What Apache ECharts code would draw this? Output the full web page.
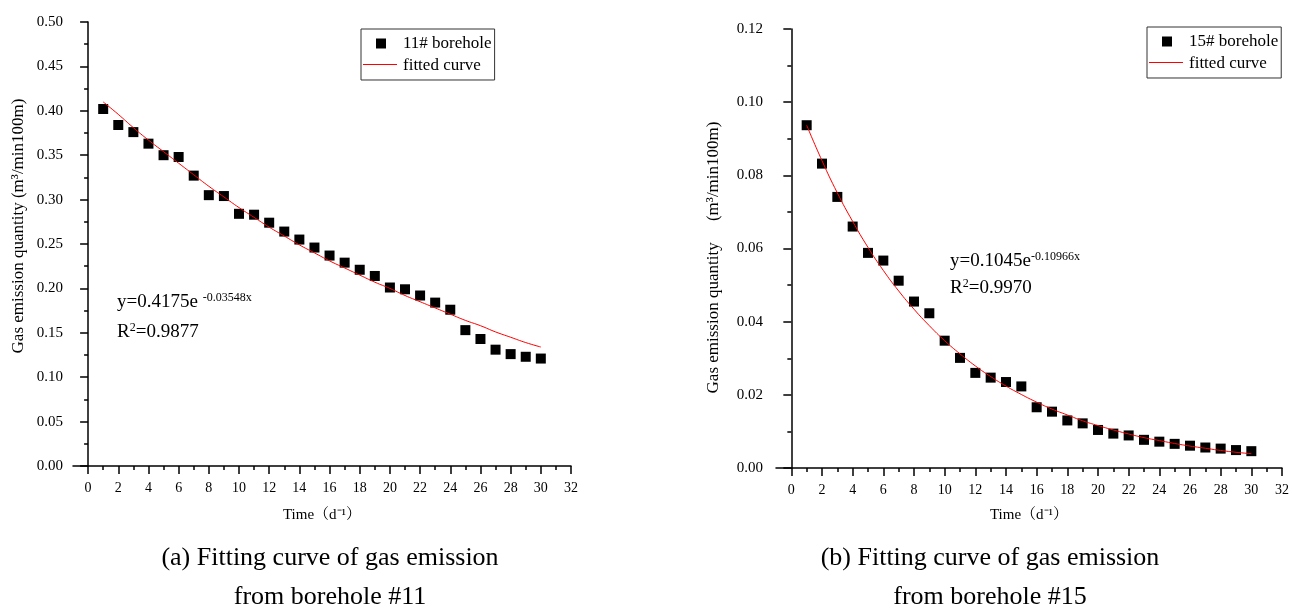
<!DOCTYPE html>
<html>
<head>
<meta charset="utf-8">
<title>Gas emission fitting curves</title>
<script src="https://cdn.jsdelivr.net/npm/echarts@6/dist/echarts.min.js"></script>
<style>
	html, body { margin: 0; padding: 0; background: #fff; }
	#chart { width: 1292px; height: 610px; }
</style>
</head>
<body>
<div id="chart"></div>
<script>
// time (days)
var days = [1,2,3,4,5,6,7,8,9,10,11,12,13,14,15,16,17,18,19,20,21,22,23,24,25,26,27,28,29,30];

// 11# borehole measured values, m3/min100m
var hole11 = [0.402,0.384,0.376,0.363,0.350,0.348,0.327,0.305,0.304,0.284,
	0.283,0.274,0.264,0.255,0.246,0.237,0.229,0.221,0.214,0.201,
	0.199,0.192,0.184,0.176,0.153,0.143,0.131,0.126,0.123,0.121];
// 11# fitted curve
var fit11 = [0.410,0.396,0.381,0.367,0.354,0.341,0.328,0.315,0.303,0.291,
	0.280,0.269,0.259,0.249,0.240,0.231,0.223,0.215,0.207,0.200,
	0.192,0.185,0.178,0.171,0.164,0.158,0.151,0.145,0.139,0.134];

// 15# borehole measured values
var hole15 = [0.0937,0.0832,0.0741,0.0660,0.0588,0.0567,0.0512,0.0455,0.0423,0.0348,
	0.0301,0.0260,0.0247,0.0235,0.0223,0.0166,0.0154,0.0130,0.0122,0.0104,
	0.0094,0.0089,0.0077,0.0072,0.0066,0.0061,0.0056,0.0053,0.0049,0.0046];
// 15# fitted curve
var fit15 = [0.0937,0.0840,0.0752,0.0674,0.0603,0.0540,0.0484,0.0434,0.0389,0.0348,
	0.0312,0.0279,0.0250,0.0224,0.0201,0.0180,0.0161,0.0145,0.0129,0.0116,
	0.0104,0.0093,0.0083,0.0075,0.0067,0.0060,0.0054,0.0048,0.0043,0.0039];

// x axis ticks
var xMajor = [0,2,4,6,8,10,12,14,16,18,20,22,24,26,28,30,32];
var xMinor = [1,3,5,7,9,11,13,15,17,19,21,23,25,27,29,31];

var font = "'Liberation Serif', 'Times New Roman', 'Noto Serif CJK SC', 'Noto Sans CJK SC', serif";
var red = '#ff0000';

function pairs(xs, ys){
	var out = [];
	for(var i = 0; i < xs.length; i++){
		out.push([xs[i], ys[i]]);
	}
	return out;
}

// main x axis (labels + long ticks)
function mainX(grid, gap){
	return {
		type: 'value', gridIndex: grid, min: -1, max: 32, position: 'bottom',
		name: 'Time（d⁻¹）', nameLocation: 'middle', nameGap: gap,
		nameTextStyle: { fontFamily: font, fontSize: 15, color: '#000' },
		axisLine: { lineStyle: { color: '#000', width: 1.5 } },
		axisTick: { customValues: xMajor, length: 8, lineStyle: { color: '#000', width: 1.5 } },
		axisLabel: { customValues: xMajor, margin: 15, fontFamily: font, fontSize: 14, color: '#000' },
		splitLine: { show: false }
	};
}
// overlay axis that only draws the short odd ticks
function minorX(grid){
	return {
		type: 'value', gridIndex: grid, min: -1, max: 32, position: 'bottom',
		axisLine: { show: false },
		axisTick: { customValues: xMinor, length: 4, lineStyle: { color: '#000', width: 1.5 } },
		axisLabel: { show: false },
		splitLine: { show: false }
	};
}
function yAxis(grid, max, step, name, gap, margin, pad){
	return {
		type: 'value', gridIndex: grid, min: 0, max: max, interval: step,
		name: name, nameLocation: 'middle', nameGap: gap,
		nameTextStyle: { fontFamily: font, fontSize: 17, color: '#000', padding: pad },
		axisLine: { show: true, lineStyle: { color: '#000', width: 1.5 } },
		axisTick: { show: true, length: 8, lineStyle: { color: '#000', width: 1.5 } },
		minorTick: { show: true, splitNumber: 2, length: 4, lineStyle: { color: '#000', width: 1.5 } },
		axisLabel: { margin: margin, fontFamily: font, fontSize: 15, color: '#000',
			formatter: function(v){ return v.toFixed(2); } },
		splitLine: { show: false }
	};
}
function legend(left, top, first){
	return {
		orient: 'vertical', left: left, top: top,
		padding: [6, 3, 6, 2], itemGap: 5,
		itemWidth: 34, itemHeight: 10,
		borderColor: '#333', borderWidth: 1,
		textStyle: { fontFamily: font, fontSize: 17, color: '#000', lineHeight: 16 },
		data: [
			{ name: first, icon: 'path://M0,0h10v10h-10z', itemStyle: { color: '#000' } },
			// icon hidden here, the red sample line is drawn in graphic below
			{ name: 'fitted curve', itemStyle: { opacity: 0 }, lineStyle: { opacity: 0 } }
		]
	};
}
// red sample line of the legend
function legendLine(x, y){
	return {
		type: 'line', z: 100,
		shape: { x1: x, y1: y, x2: x + 34, y2: y },
		style: { stroke: red, lineWidth: 1 }
	};
}
// formula text with superscripts
function formula(x, y, head, sup, tail){
	return {
		type: 'text', left: x, top: y,
		style: {
			text: '{m|' + head + '}{s|' + sup + '}' + (tail ? '{m|' + tail + '}' : ''),
			rich: {
				m: { fontFamily: font, fontSize: 19, lineHeight: 20, fill: '#000', color: '#000' },
				s: { fontFamily: font, fontSize: 12, lineHeight: 20, verticalAlign: 'top', fill: '#000', color: '#000' }
			}
		}
	};
}
function caption(x, y, text){
	return {
		type: 'text', x: x, y: y,
		style: { text: text, fontFamily: font, fontSize: 26, fill: '#000',
			align: 'center', verticalAlign: 'middle' }
	};
}

var myChart = echarts.init(document.getElementById('chart'));

var option = {
	backgroundColor: '#fff',
	animation: false,
	grid: [
		{ left: 73, top: 22, width: 498, height: 444 },
		{ left: 776, top: 29, width: 510, height: 439 }
	],
	xAxis: [mainX(0, 42), minorX(0), mainX(1, 40), minorX(1)],
	yAxis: [
		yAxis(0, 0.5, 0.05, 'Gas emission quantity (m³/min100m)', 46, 10, [0, 0, 0, 36]),
		yAxis(1, 0.12, 0.02, 'Gas emission quantity     (m³/min100m)', 54, 13, [0, 18, 0, 0])
	],
	legend: [legend(361, 29, '11# borehole'), legend(1147, 27, '15# borehole')],
	series: [
		{
			name: '11# borehole', type: 'scatter', xAxisIndex: 0, yAxisIndex: 0,
			symbol: 'rect', symbolSize: 10, itemStyle: { color: '#000', opacity: 1 },
			data: pairs(days, hole11)
		},
		{
			name: 'fitted curve', type: 'line', xAxisIndex: 0, yAxisIndex: 0,
			symbol: 'none', smooth: true, lineStyle: { color: red, width: 1 },
			itemStyle: { color: red }, z: 3,
			data: pairs(days, fit11)
		},
		{
			name: '15# borehole', type: 'scatter', xAxisIndex: 2, yAxisIndex: 1,
			symbol: 'rect', symbolSize: 10, itemStyle: { color: '#000', opacity: 1 },
			data: pairs(days, hole15)
		},
		{
			name: 'fitted curve', type: 'line', xAxisIndex: 2, yAxisIndex: 1,
			symbol: 'none', smooth: true, lineStyle: { color: red, width: 1 },
			itemStyle: { color: red }, z: 3,
			data: pairs(days, fit15)
		}
	],
	graphic: [
		legendLine(363, 64.5),
		legendLine(1149, 62.5),
		formula(117, 292, 'y=0.4175e ', '-0.03548x'),
		formula(117, 322, 'R', '2', '=0.9877'),
		formula(950, 251, 'y=0.1045e', '-0.10966x'),
		formula(950, 278, 'R', '2', '=0.9970'),
		caption(330, 558, '(a) Fitting curve of gas emission'),
		caption(330, 597, 'from borehole #11'),
		caption(990, 558, '(b) Fitting curve of gas emission'),
		caption(990, 597, 'from borehole #15')
	]
};
myChart.setOption(option);
</script>
</body>
</html>
